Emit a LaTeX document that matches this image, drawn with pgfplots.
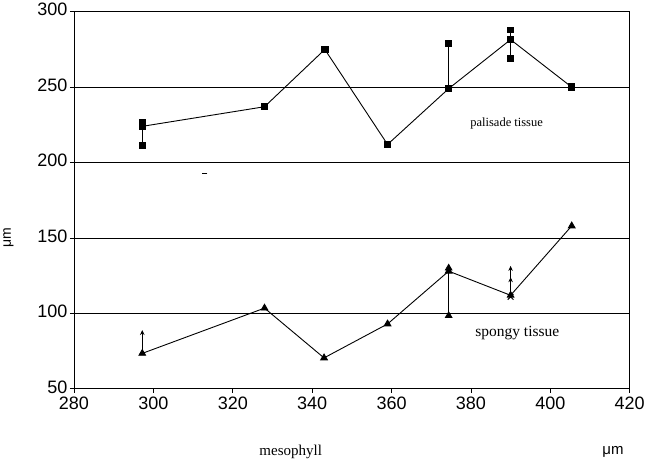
\documentclass[border=0pt]{standalone}
\usepackage{fontspec}
\setmainfont{Liberation Sans}
\newfontfamily\serif{Liberation Serif}
\usepackage{pgfplots}
\pgfplotsset{compat=1.18}
\usetikzlibrary{arrows.meta}
\begin{document}
\begin{tikzpicture}
\begin{axis}[
    width=554bp, height=376bp,
    scale only axis,
    clip=false,
    xmin=280, xmax=420,
    ymin=50, ymax=300,
    xtick={280,300,...,420},
    ytick={50,100,...,300},
    xtick pos=left, ytick pos=left,
    tick align=outside,
    major tick length=4bp,
    ymajorgrids=true,
    grid style={black, line width=0.8pt},
    axis line style={line width=0.9pt},
    tick style={black, line width=0.8pt},
    ticklabel style={font=\fontsize{18}{20}\selectfont},
    /pgf/number format/assume math mode=true,
    xticklabel style={yshift=-1bp},
    yticklabel style={xshift=1bp, yshift=2bp},
]
% palisade tissue
\addplot[black, line width=0.9pt, mark=square*, mark size=3.2bp]
    coordinates {
    (297.2,224) (328,237) (343.2,275) (359,212)
    (374.4,249) (390,281.5) (405.4,250)
    };
% palisade ranges
\addplot[black, line width=0.8pt, mark=square*, mark size=2.8bp]
    coordinates {(297.2,211.5) (297.2,226.5)};
\addplot[black, line width=0.8pt, mark=square*, mark size=2.8bp, mark indices={2}]
    coordinates {(374.4,249) (374.4,279)};
\addplot[black, line width=0.8pt, mark=square*, mark size=2.8bp]
    coordinates {(390,269) (390,288)};
% spongy tissue
\addplot[black, line width=0.9pt, mark=triangle*, mark size=3.8bp]
    coordinates {
    (297.2,73.5) (328,103.5) (343,70.5) (359,93)
    (374.4,128) (390,112) (405.4,158)
    };
% spongy ranges
\addplot[black, line width=0.8pt, -{Stealth[length=5bp,width=4.5bp]}]
    coordinates {(297.2,73) (297.2,89)};
\addplot[black, line width=0.8pt, mark=triangle*, mark size=3.8bp]
    coordinates {(374.4,98.5) (374.4,130)};
\addplot[black, line width=0.8pt, -{Stealth[length=5bp,width=4.5bp]}]
    coordinates {(390,112) (390,124)};
\addplot[black, line width=0.8pt, -{Stealth[length=5bp,width=4.5bp]}]
    coordinates {(390,123) (390,131.5)};
\addplot[only marks, black, mark=x, mark size=4bp, line width=1pt]
    coordinates {(390,111)};
% stray dash
\addplot[only marks, black, mark=-, mark size=2.5bp, line width=1.2pt]
    coordinates {(313,193)};
\node[font=\serif\fontsize{12.5}{14}\selectfont] at (axis cs:389,226) {palisade tissue};
\node[font=\serif\fontsize{15.5}{17}\selectfont] at (axis cs:391.7,87) {spongy tissue};
\node[font=\serif\fontsize{15}{17}\selectfont] at (rel axis cs:0.39,-0.168) {mesophyll};
\node[font=\fontsize{15}{17}\selectfont] at (rel axis cs:0.97,-0.168) {μm};
\node[font=\fontsize{14}{16}\selectfont, rotate=90] at (rel axis cs:-0.118,0.40) {μm};
\end{axis}
\end{tikzpicture}
\end{document}
